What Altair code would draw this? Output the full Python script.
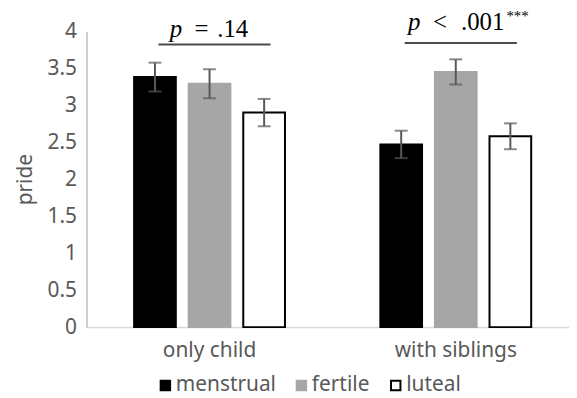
import altair as alt
import pandas as pd

groups = ["only child", "with siblings"]
phases = ["menstrual", "fertile", "luteal"]
fill_colors = ["#000000", "#a6a6a6", "#ffffff"]
stroke_colors = ["#000000", "#a6a6a6", "#000000"]

# mean pride per group x phase (menstrual, fertile, luteal)
pride_only_child = [3.38, 3.29, 2.90]
pride_with_siblings = [2.47, 3.45, 2.58]
err_only_child = [0.195, 0.195, 0.185]
err_with_siblings = [0.185, 0.17, 0.175]

y_ticks = [0, 0.5, 1, 1.5, 2, 2.5, 3, 3.5, 4]

# significance annotations
ann_groups = ["only child", "with siblings"]
ann_ops = ["=", "<"]
ann_vals = [".14", ".001"]
ann_stars = ["", "***"]
ann_bracket = [3.82, 3.84]
ann_text_y = [3.92, 4.01]
ann_star_y = [4.14, 4.14]

rows = []
for g, means, errs in [(groups[0], pride_only_child, err_only_child),
                       (groups[1], pride_with_siblings, err_with_siblings)]:
    for p, m, e in zip(phases, means, errs):
        rows.append({"group": g, "phase": p, "mean": m, "lower": m - e, "upper": m + e})
df = pd.DataFrame(rows)

ann = pd.DataFrame({"group": ann_groups, "op": ann_ops, "val": ann_vals,
                    "stars": ann_stars, "bracket": ann_bracket,
                    "ty": ann_text_y, "sy": ann_star_y})

GRAY = "#595959"
FONT = "Noto Sans"
SERIF = "Liberation Serif"

x_enc = alt.X("group:N", sort=groups,
              scale=alt.Scale(paddingInner=0.335, paddingOuter=0.1474, align=0.568),
              axis=alt.Axis(title=None, labelAngle=0, labelFontSize=21, labelFont=FONT,
                            labelColor=GRAY, domainColor="#d9d9d9", domainWidth=1.5,
                            ticks=False, labelPadding=13, grid=False))
xo_enc = alt.XOffset("phase:N", sort=phases,
                     scale=alt.Scale(paddingInner=0.236, paddingOuter=0.118))
y_scale = alt.Scale(domain=[0, 4], nice=False)

leg = alt.Legend(title=None, orient="none", legendX=69, legendY=346, direction="horizontal",
                 symbolType="square", symbolSize=90, symbolStrokeWidth=2,
                 labelFontSize=21, labelFont=FONT, labelColor=GRAY, labelOffset=0,
                 columnPadding=15, padding=0)

y_axis = alt.Axis(title="pride", titleFontSize=21, titleFont=FONT, titleColor=GRAY,
                  titleFontWeight="normal", titlePadding=12,
                  labelFontSize=21, labelFont=FONT, labelColor=GRAY,
                  domainColor="#bfbfbf", domainWidth=1.5, ticks=False,
                  labelPadding=10, values=y_ticks, format="~g", grid=False,
                  labelOverlap=False)


def Y(field):
    return alt.Y(f"{field}:Q", scale=y_scale, axis=y_axis)


bars = alt.Chart(df).mark_bar(strokeWidth=2).encode(
    x=x_enc,
    xOffset=xo_enc,
    y=Y("mean"),
    fill=alt.Fill("phase:N", sort=phases, scale=alt.Scale(domain=phases, range=fill_colors), legend=leg),
    stroke=alt.Stroke("phase:N", sort=phases, scale=alt.Scale(domain=phases, range=stroke_colors), legend=leg),
)

err_rule = alt.Chart(df).mark_rule(color=GRAY, strokeWidth=2).encode(
    x=x_enc, xOffset=xo_enc, y=Y("lower"), y2="upper:Q")
cap_top = alt.Chart(df).mark_tick(color=GRAY, thickness=2, size=13, orient="horizontal").encode(
    x=x_enc, xOffset=xo_enc, y=Y("upper"))
cap_bot = alt.Chart(df).mark_tick(color=GRAY, thickness=2, size=13, orient="horizontal").encode(
    x=x_enc, xOffset=xo_enc, y=Y("lower"))

bracket = alt.Chart(ann).mark_tick(color="black", thickness=2, size=113, orient="horizontal", xOffset=5).encode(
    x=x_enc, y=Y("bracket"))


def piece(group, field, dx, align, style, size=25, yfield="ty"):
    return alt.Chart(ann).transform_filter(alt.datum.group == group).mark_text(
        font=SERIF, fontSize=size, fontStyle=style, color="black", align=align,
        baseline="alphabetic", dx=dx).encode(
        x=x_enc, y=Y(yfield), text=f"{field}:N")


ann_p = alt.Chart(ann).transform_calculate(p="'p'")


def p_piece(group, dx):
    return ann_p.transform_filter(alt.datum.group == group).mark_text(
        font=SERIF, fontSize=25, fontStyle="italic", color="black", align="left",
        baseline="alphabetic", dx=dx).encode(
        x=x_enc, y=Y("ty"), text="p:N")


texts = [
    p_piece("only child", -40),
    piece("only child", "op", -8, "center", "normal"),
    piece("only child", "val", 39, "right", "normal"),
    p_piece("with siblings", -48),
    piece("with siblings", "op", -16, "center", "normal"),
    piece("with siblings", "val", 49, "right", "normal"),
    piece("with siblings", "stars", 51, "left", "normal", size=15, yfield="sy"),
]

chart = alt.layer(bars, err_rule, cap_top, cap_bot, bracket, *texts).properties(
    width=486, height=298,
    autosize=alt.AutoSizeParams(type="none"),
    padding={"left": 79, "top": 22, "right": 0, "bottom": 72},
).configure_view(stroke=None)

chart.save("out.html", embed_options={"renderer": "svg", "actions": False})
